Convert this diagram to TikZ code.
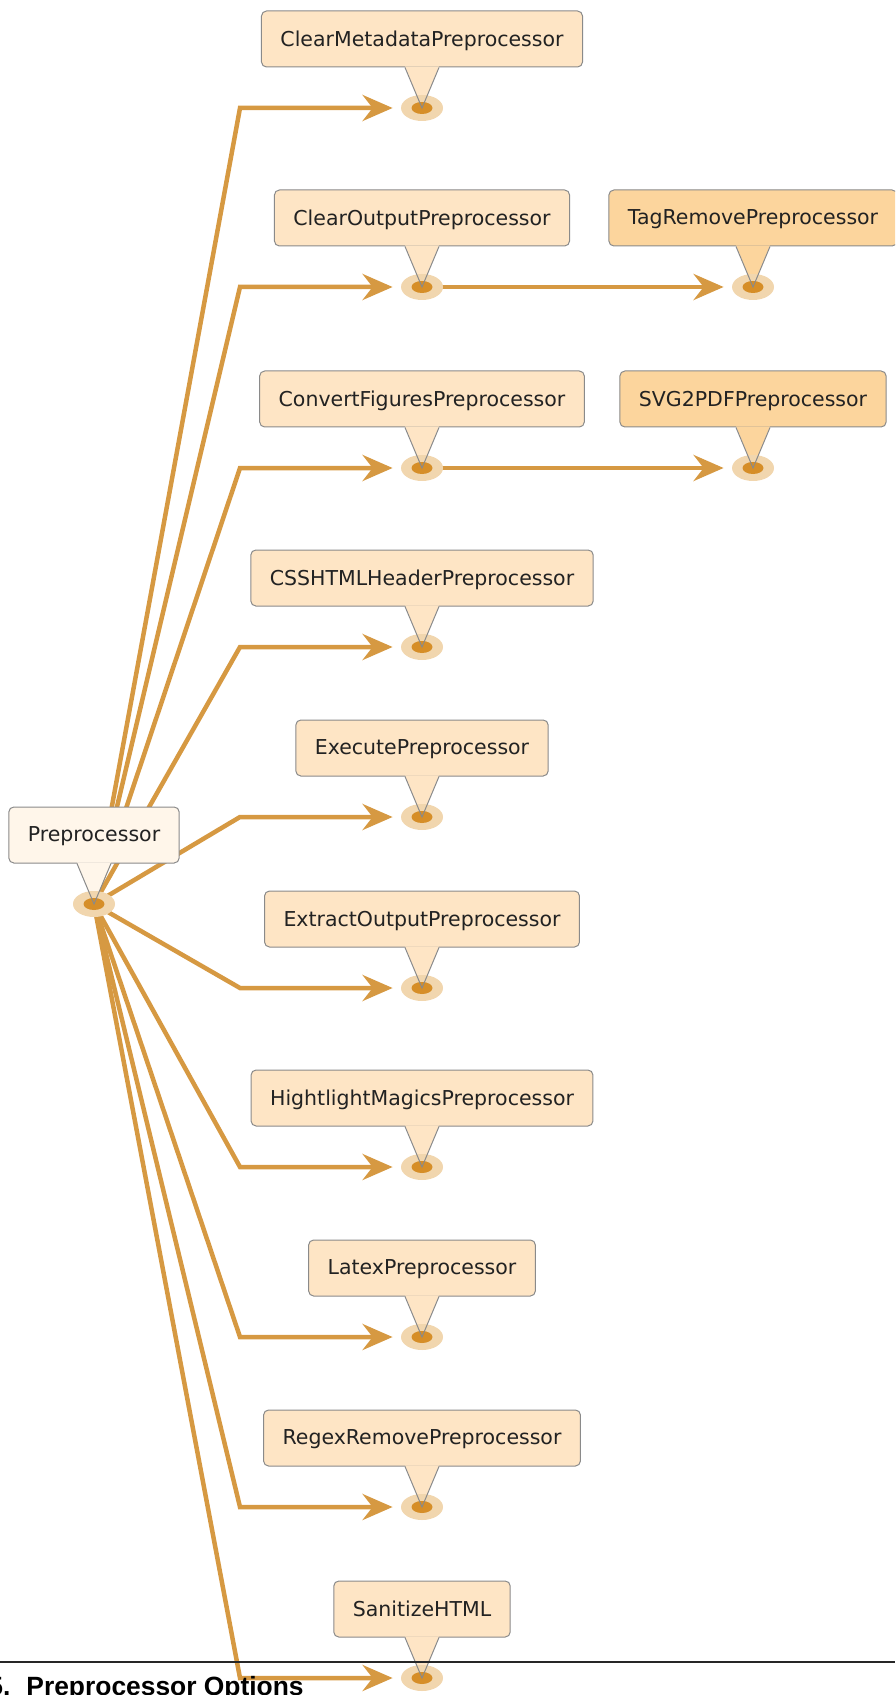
\documentclass[tikz,border=0pt]{standalone}
\usepackage{fontspec}
\setmainfont{DejaVu Sans}
\newfontfamily\headfont{Liberation Sans}
\usepackage{tikz}
\usetikzlibrary{arrows.meta}
\usetikzlibrary{shapes.geometric}
\usetikzlibrary{backgrounds}

\definecolor{edgeorange}{RGB}{214,153,66}
\definecolor{dotlight}{RGB}{241,214,174}
\definecolor{dotdark}{RGB}{214,142,40}
\definecolor{boxfill}{RGB}{254,229,197}
\definecolor{boxhigh}{RGB}{252,213,157}
\definecolor{boxroot}{RGB}{255,246,234}
\definecolor{boxline}{RGB}{138,138,138}
\definecolor{labeltext}{RGB}{34,34,34}

\begin{document}
\begin{tikzpicture}[x=0.5pt,y=-0.5pt]
  \tikzset{procbox/.style = {shape=rectangle,rounded corners=2.5pt,draw=boxline,line width=0.5pt,
      text=labeltext,minimum height=28pt,inner xsep=9.5pt,text depth=0.6pt,font=\fontsize{10.25pt}{12pt}\selectfont}}
  \tikzset{dot/.style = {shape=ellipse,fill=dotlight,minimum width=21pt,minimum height=13pt,inner sep=0pt,
      path picture={\fill[dotdark] (path picture bounding box.center) ellipse [x radius=5.25pt, y radius=3pt];}}}
  \tikzset{tailline/.style = {draw=boxline,line width=0.5pt}}
  \tikzset{edge/.style = {draw=edgeorange,line width=2.25pt,-{Stealth[length=15pt,width=13pt,inset=5pt]},shorten >=4pt}}

  \useasboundingbox (0,0) rectangle (895,1695);
  \clip (0,0) rectangle (895,1695);

  % boxes with their call-out tails and dots
  \foreach \name/\x/\y/\shade/\label in {
      root/94/904/boxroot/Preprocessor,
      cmeta/422/108/boxfill/ClearMetadataPreprocessor,
      cout/422/287/boxfill/ClearOutputPreprocessor,
      conv/422/468/boxfill/ConvertFiguresPreprocessor,
      css/422/647/boxfill/CSSHTMLHeaderPreprocessor,
      exec/422/817/boxfill/ExecutePreprocessor,
      extr/422/988/boxfill/ExtractOutputPreprocessor,
      magic/422/1167/boxfill/HightlightMagicsPreprocessor,
      latex/422/1337/boxfill/LatexPreprocessor,
      regex/422/1507/boxfill/RegexRemovePreprocessor,
      sanit/422/1678/boxfill/SanitizeHTML,
      tagrm/753/287/boxhigh/TagRemovePreprocessor,
      svgpdf/753/468/boxhigh/SVG2PDFPreprocessor}
  {
    \node[procbox,fill=\shade] (\name) at (\x,{\y-69}) {\label};
    \fill[\shade] ([xshift=-8.5pt,yshift=0.6pt]\name.south) -- (\x,\y) -- ([xshift=8.5pt,yshift=0.6pt]\name.south) -- cycle;
    \node[dot] (\name-dot) at (\x,\y) {};
    \draw[tailline] ([xshift=-8.5pt]\name.south) -- (\name-dot.center) -- ([xshift=8.5pt]\name.south);
  }

  \coordinate (elbow) at (240,0);

  \begin{scope}[on background layer]
    \foreach \target in {cmeta,cout,conv,css,exec,extr,magic,latex,regex,sanit}
      \draw[edge] (root-dot.center) -- (\target-dot -| elbow) -- (\target-dot);
    \draw[edge] (cout-dot.center) -- (tagrm-dot);
    \draw[edge] (conv-dot.center) -- (svgpdf-dot);
  \end{scope}

  % page heading cut off at the bottom
  \coordinate (rule-l) at (0,1662);
  \coordinate (rule-r) at (895,1662);
  \draw[black!85,line width=0.6pt] (rule-l) -- (rule-r);
  \node[anchor=base west,inner sep=0pt,font={\headfont\bfseries\fontsize{13.2pt}{15pt}\selectfont}] (heading)
    at (-12,1695) {5.\hspace{8pt}Preprocessor Options};
\end{tikzpicture}
\end{document}
